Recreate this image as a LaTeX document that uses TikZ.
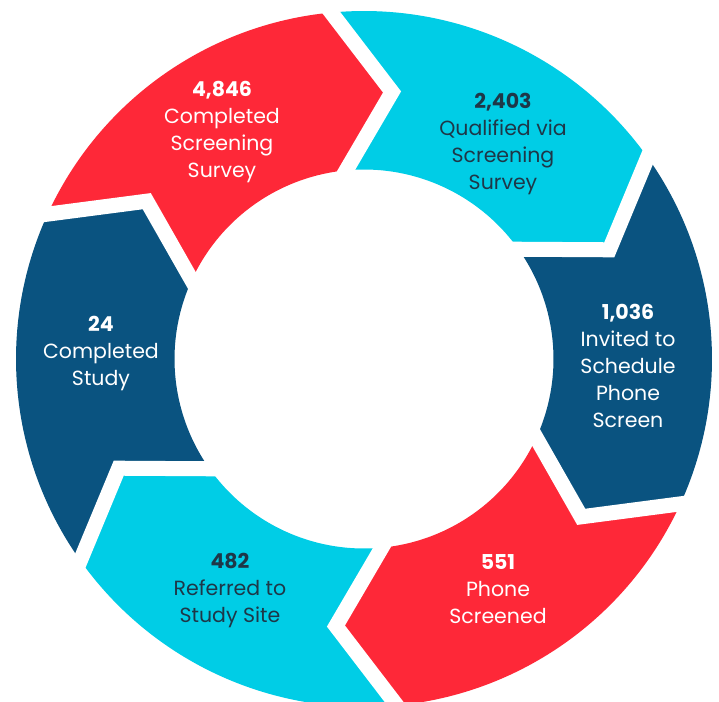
\documentclass[tikz,border=0pt]{standalone}
\usepackage{fontspec}
\setmainfont{Poppins}
\usetikzlibrary{calc}
\definecolor{segred}{HTML}{FE2838}
\definecolor{segcyan}{HTML}{00CDE6}
\definecolor{segnavy}{HTML}{0A5380}
\definecolor{txtdark}{HTML}{1E3748}
\tikzset{
  gapline/.style={draw=white,line width=15},
  steptext/.style={align=center,font=\fontsize{20.5}{27}\selectfont,inner sep=0pt},
}
\begin{document}
\begin{tikzpicture}[x=1pt,y=1pt]
	\useasboundingbox[fill=white] (-364,-342) rectangle (355,359);
	% ring segments, clockwise from top left
	\foreach \a/\c in {155.4/segred, 95.4/segcyan, 35.4/segnavy, -24.6/segred, -84.6/segcyan, -144.6/segnavy}
	\fill[\c] (\a:348) arc[start angle=\a, end angle=\a-60, radius=348] -- (\a-71.4:268.5) -- (\a-60:189.5)
		arc[start angle=\a-60, end angle=\a, radius=189.5] -- (\a-11.4:268.5) -- cycle;
	% white gaps between segments
	\foreach \a in {155.4, 95.4, 35.4, -24.6, -84.6, -144.6} {
		\coordinate (rim) at (\a:348);
		\coordinate (tip) at (\a-11.4:268.5);
		\coordinate (hub) at (\a:189.5);
		\draw[gapline] ($(tip)!1.2!(rim)$) -- (tip) -- ($(tip)!1.2!(hub)$);
	}
	\node[steptext,white] (survey) at (-142,227) {\textbf{4,846}\\Completed\\Screening\\Survey};
	\node[steptext,txtdark] (qualified) at (139,215) {\textbf{2,403}\\Qualified via\\Screening\\Survey};
	\node[steptext,white] (invited) at (264,-7) {\textbf{1,036}\\Invited to\\Schedule\\Phone\\Screen};
	\node[steptext,white] (phone) at (134,-230) {\textbf{551}\\Phone\\Screened};
	\node[steptext,txtdark] (referred) at (-134,-231) {\textbf{482}\\Referred to\\Study Site};
	\node[steptext,white] (study) at (-263,6) {\textbf{24}\\Completed\\Study};
\end{tikzpicture}
\end{document}
